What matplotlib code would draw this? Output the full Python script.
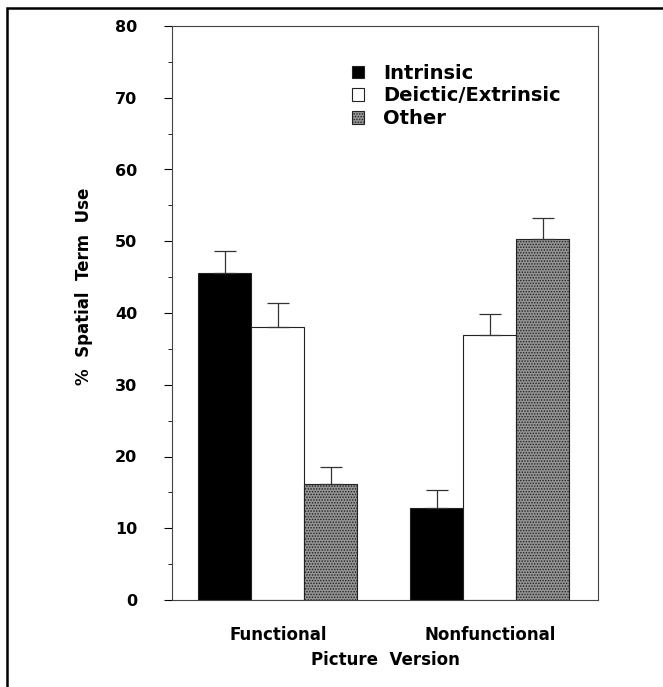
import matplotlib
matplotlib.use('Agg')
import matplotlib.pyplot as plt
import numpy as np
from matplotlib.patches import Rectangle

plt.rcParams['font.family'] = ['DejaVu Sans']
plt.rcParams['font.weight'] = 'bold'
plt.rcParams['axes.labelweight'] = 'bold'
plt.rcParams['hatch.linewidth'] = 0.7

# dane
grupy = ['Functional', 'Nonfunctional']
serie = ['Intrinsic', 'Deictic/Extrinsic', 'Other']
wartosci = [[45.6, 12.8],
            [38.0, 37.0],
            [16.1, 50.3]]
bledy = [[3.0, 2.6],
         [3.4, 2.8],
         [2.5, 2.9]]

kolory = ['black', 'white', '#949494']
kreskowanie = [None, None, '......']

fig = plt.figure(figsize=(6.63, 6.87), dpi=100)
ax = fig.add_axes([172/663, 1-600/687, 426/663, 574/687])

x = np.arange(len(grupy))
w = 0.25
for i, s in enumerate(serie):
    pos = x + (i - 1) * w
    ax.bar(pos, wartosci[i], width=w, color=kolory[i], edgecolor='#222222',
           linewidth=0.8, hatch=kreskowanie[i], label=s, zorder=2)
    ax.errorbar(pos, wartosci[i], yerr=[np.zeros(len(grupy)), bledy[i]],
                fmt='none', ecolor='#333333', elinewidth=0.9, capsize=8,
                capthick=0.9, zorder=3)

ax.set_xlim(-0.5, 1.51)
ax.set_ylim(0, 80)
ax.set_yticks(np.arange(0, 81, 10))
ax.set_yticks(np.arange(5, 80, 10), minor=True)
ax.set_xticks(x)
ax.set_xticklabels(grupy, fontsize=12)
ax.tick_params(axis='x', length=0, pad=19)
ax.tick_params(axis='y', which='major', length=6, width=0.8, labelsize=11.5, pad=19)
ax.tick_params(axis='y', which='minor', length=3, width=0.6)
for sp in ax.spines.values():
    sp.set_linewidth(0.8)
    sp.set_color('#444444')

ax.set_ylabel('%  Spatial  Term  Use', fontsize=12)
ax.yaxis.set_label_coords(-0.185, 0.546)
ax.set_xlabel('Picture  Version', fontsize=12, labelpad=5)

leg = ax.legend(loc='upper left', bbox_to_anchor=(0.382, 0.965), frameon=False,
                fontsize=14, handlelength=0.6, handleheight=0.6,
                handletextpad=1.0, labelspacing=0.2)

# ramka wokół rysunku (prawa i dolna krawędź poza kadrem)
fig.patches.append(Rectangle((7/663, -0.05), 1.1, 1 - 8/687 + 0.05,
                             transform=fig.transFigure, fill=False,
                             edgecolor='black', linewidth=1.8))

fig.savefig('out.png', dpi=100)
